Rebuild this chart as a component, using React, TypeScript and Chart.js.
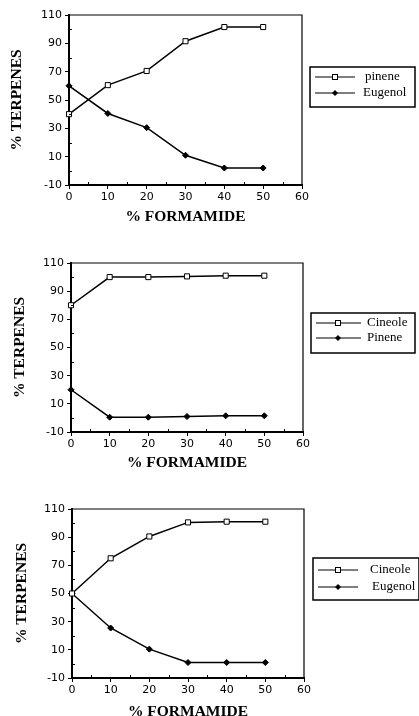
import React, { useEffect, useRef } from "react";
import { Chart, registerables } from "chart.js";

Chart.register(...registerables);

// ---------- data ----------
const formamide = [0, 10, 20, 30, 40, 50];
const xTickValues = [0, 10, 20, 30, 40, 50, 60];
const yTickValues = [-10, 10, 30, 50, 70, 90, 110];
const xMinorTicks = [5, 15, 25, 35, 45, 55];
const yMinorTicks = [0, 20, 40, 60, 80, 100];

const chart1Labels = ["pinene", "Eugenol"];
const chart1Pinene = [40, 60.5, 70.5, 91.5, 101.5, 101.5];
const chart1Eugenol = [60, 40.5, 30.5, 11, 2, 2];

const chart2Labels = ["Cineole", "Pinene"];
const chart2Cineole = [80, 100, 100, 100.5, 101, 101];
const chart2Pinene = [20, 0.5, 0.5, 1, 1.5, 1.5];

const chart3Labels = ["Cineole", "Eugenol"];
const chart3Cineole = [50, 75, 90.5, 100.5, 101, 101];
const chart3Eugenol = [50, 25.5, 10.5, 1, 1, 1];

const yTitle = "% TERPENES";
const xTitle = "% FORMAMIDE";

// ---------- layouts (canvas px) ----------
type Layout = {
  top: number;
  height: number;
  padTop: number;
  padRight: number;
  yWidth: number;
  yTitlePad: number;
  xHeight: number;
  xTitlePad: number;
  legend: {
    left: number;
    top: number;
    width: number;
    height: number;
    lineX1: number;
    lineX2: number;
    markerX: number;
    textX: number[];
    rowY: number[];
  };
};

const layout1: Layout = {
  top: 0, height: 238, padTop: 15, padRight: 117, yWidth: 69, yTitlePad: 8, xHeight: 53, xTitlePad: 12,
  legend: { left: 310, top: 67, width: 105, height: 40, lineX1: 315, lineX2: 355, markerX: 335, textX: [365, 363], rowY: [77, 93] },
};
const layout2: Layout = {
  top: 238, height: 238, padTop: 25, padRight: 116, yWidth: 71, yTitlePad: 11, xHeight: 44, xTitlePad: 4,
  legend: { left: 311, top: 75, width: 104, height: 40, lineX1: 316, lineX2: 361, markerX: 338, textX: [367, 367], rowY: [85, 100] },
};
const layout3: Layout = {
  top: 476, height: 250, padTop: 33, padRight: 115, yWidth: 72, yTitlePad: 13, xHeight: 48, xTitlePad: 5,
  legend: { left: 313, top: 82, width: 106, height: 42, lineX1: 318, lineX2: 358, markerX: 338, textX: [370, 372], rowY: [94, 111] },
};

const tickFont = { family: "'DejaVu Sans', Verdana, sans-serif", size: 11 };
const titleFont = { family: "'Liberation Serif', 'Times New Roman', serif", size: 15.5, weight: "bold" as const };

function drawMarker(ctx: CanvasRenderingContext2D, kind: number, x: number, y: number) {
  ctx.save();
  ctx.lineWidth = 1;
  ctx.strokeStyle = "#000";
  if (kind === 0) {
    ctx.fillStyle = "#fff";
    ctx.fillRect(x - 2.5, y - 2.5, 5, 5);
    ctx.strokeRect(x - 2.5, y - 2.5, 5, 5);
  } else {
    ctx.fillStyle = "#000";
    ctx.beginPath();
    ctx.moveTo(x, y - 3);
    ctx.lineTo(x + 3, y);
    ctx.lineTo(x, y + 3);
    ctx.lineTo(x - 3, y);
    ctx.closePath();
    ctx.fill();
  }
  ctx.restore();
}

const framePlugin = {
  id: "frame",
  afterDatasetsDraw(chart: any, _args: any, opts: any) {
    const { ctx, chartArea: a, scales } = chart;
    ctx.save();
    ctx.strokeStyle = "#000";
    // top & right frame
    ctx.lineWidth = 1.2;
    ctx.beginPath();
    ctx.moveTo(a.left, a.top);
    ctx.lineTo(a.right, a.top);
    ctx.lineTo(a.right, a.bottom);
    ctx.stroke();
    // minor ticks (inward)
    ctx.lineWidth = 1;
    ctx.beginPath();
    for (const v of yMinorTicks) {
      const y = Math.round(scales.y.getPixelForValue(v)) + 0.5;
      ctx.moveTo(a.left, y);
      ctx.lineTo(a.left + 3, y);
    }
    for (const v of xMinorTicks) {
      const x = Math.round(scales.x.getPixelForValue(v)) + 0.5;
      ctx.moveTo(x, a.bottom);
      ctx.lineTo(x, a.bottom - 3);
    }
    ctx.stroke();

    // legend
    const L = opts;
    if (L && L.width) {
      ctx.lineWidth = 1.5;
      ctx.strokeRect(L.left, L.top, L.width, L.height);
      ctx.font = "13px 'Liberation Serif', 'Times New Roman', serif";
      ctx.fillStyle = "#000";
      ctx.textBaseline = "middle";
      ctx.textAlign = "left";
      chart.data.datasets.forEach((ds: any, i: number) => {
        const y = L.rowY[i];
        ctx.lineWidth = 1.2;
        ctx.beginPath();
        ctx.moveTo(L.lineX1, y);
        ctx.lineTo(L.lineX2, y);
        ctx.stroke();
        drawMarker(ctx, i, L.markerX, y);
        ctx.fillText(ds.label, L.textX[i], y);
      });
    }
    ctx.restore();
  },
};

function makeConfig(labels: string[], s1: number[], s2: number[], L: Layout): any {
  const common = {
    borderColor: "#000",
    borderWidth: 1.5,
    tension: 0,
    clip: false,
    pointBorderColor: "#000",
    pointBorderWidth: 1,
  };
  return {
    type: "line",
    data: {
      datasets: [
        {
          ...common,
          label: labels[0],
          data: formamide.map((x, i) => ({ x, y: s1[i] })),
          pointStyle: "rect",
          pointRadius: 3.6,
          pointBackgroundColor: "#fff",
        },
        {
          ...common,
          label: labels[1],
          data: formamide.map((x, i) => ({ x, y: s2[i] })),
          pointStyle: "rectRot",
          pointRadius: 3,
          pointBackgroundColor: "#000",
        },
      ],
    },
    options: {
      animation: false,
      responsive: false,
      devicePixelRatio: 1,
      events: [],
      layout: { padding: { left: 0, right: L.padRight, top: L.padTop, bottom: 0 } },
      plugins: {
        legend: { display: false },
        tooltip: { enabled: false },
        frame: L.legend,
      },
      scales: {
        x: {
          type: "linear",
          min: 0,
          max: 60,
          afterBuildTicks: (s: any) => {
            s.ticks = xTickValues.map((v) => ({ value: v }));
          },
          afterFit: (s: any) => {
            s.height = L.xHeight;
          },
          grid: { drawOnChartArea: false, drawTicks: true, tickLength: 4, color: "#000", tickWidth: 1 },
          border: { display: true, color: "#000", width: 2 },
          ticks: { font: tickFont, color: "#000", padding: 2, maxRotation: 0, autoSkip: false },
          title: {
            display: true,
            text: xTitle,
            color: "#000",
            font: titleFont,
            padding: { top: 0, bottom: L.xTitlePad },
          },
        },
        y: {
          type: "linear",
          min: -10,
          max: 110,
          afterBuildTicks: (s: any) => {
            s.ticks = yTickValues.map((v) => ({ value: v }));
          },
          afterFit: (s: any) => {
            s.width = L.yWidth;
          },
          grid: { drawOnChartArea: false, drawTicks: true, tickLength: 4, color: "#000", tickWidth: 1 },
          border: { display: true, color: "#000", width: 2 },
          ticks: { font: tickFont, color: "#000", padding: 3, autoSkip: false },
          title: {
            display: true,
            text: yTitle,
            color: "#000",
            font: titleFont,
            padding: { top: L.yTitlePad, bottom: 0 },
          },
        },
      },
    },
    plugins: [framePlugin],
  };
}

function ChartCanvas({ labels, s1, s2, L }: { labels: string[]; s1: number[]; s2: number[]; L: Layout }) {
  const ref = useRef<HTMLCanvasElement>(null);
  useEffect(() => {
    const chart = new Chart(ref.current as HTMLCanvasElement, makeConfig(labels, s1, s2, L));
    return () => chart.destroy();
  }, []);
  return (
    <canvas
      ref={ref}
      width={419}
      height={L.height}
      style={{ position: "absolute", left: 0, top: L.top, width: 419, height: L.height, display: "block" }}
    />
  );
}

export default function App() {
  return (
    <div
      style={{
        position: "fixed",
        left: 0,
        top: 0,
        width: 419,
        height: 716,
        overflow: "hidden",
        background: "#fff",
      }}
    >
      <ChartCanvas labels={chart1Labels} s1={chart1Pinene} s2={chart1Eugenol} L={layout1} />
      <ChartCanvas labels={chart2Labels} s1={chart2Cineole} s2={chart2Pinene} L={layout2} />
      <ChartCanvas labels={chart3Labels} s1={chart3Cineole} s2={chart3Eugenol} L={layout3} />
    </div>
  );
}
